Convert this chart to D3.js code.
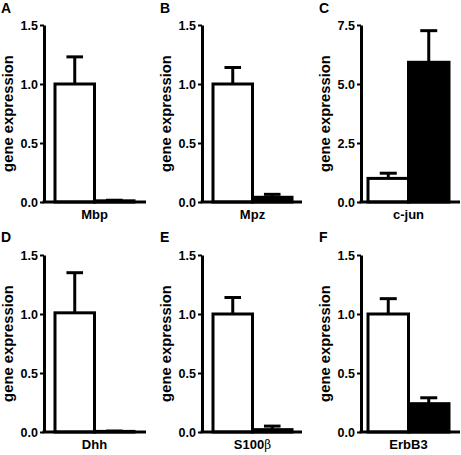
<!DOCTYPE html>
<html>
<head>
<meta charset="utf-8">
<script src="https://cdn.jsdelivr.net/npm/d3@7"></script>
<style>
  body { margin: 0; background: #fff; }
  svg { display: block; }
  text { font-family: "Liberation Sans", Arial, sans-serif; font-weight: bold; fill: #000; }
</style>
</head>
<body>
<svg id="chart" width="461" height="455"></svg>
<script>
// ---- data ----
const panelLetters = ["A", "B", "C", "D", "E", "F"];
const genes = ["Mbp", "Mpz", "c-jun", "Dhh", "S100", "ErbB3"];
const geneSuffix = ["", "", "", "", "\u03B2", ""];
const groups = ["control", "treated"];
const controlValues = [1.0, 1.0, 1.0, 1.01, 1.0, 1.0];
const controlErrors = [0.23, 0.14, 0.22, 0.34, 0.14, 0.13];
const treatedValues = [0.01, 0.04, 5.92, 0.005, 0.02, 0.24];
const treatedErrors = [0.005, 0.025, 1.34, 0.003, 0.03, 0.05];
const yMaxima = [1.5, 1.5, 7.5, 1.5, 1.5, 1.5];
const tickSetSmall = [0, 0.5, 1.0, 1.5];
const tickSetLarge = [0, 2.5, 5.0, 7.5];
const yTitle = "gene expression";

// ---- layout ----
const cols = [
  { axisX: 44, barStart: 55, barEnd: 134, axisEnd: 146, letterX: 1 },
  { axisX: 202, barStart: 213, barEnd: 292, axisEnd: 302, letterX: 160 },
  { axisX: 361, barStart: 368, barEnd: 449, axisEnd: 460, letterX: 319 }
];
const rows = [
  { top: 25, bottom: 202, letterY: 13 },
  { top: 255, bottom: 432, letterY: 242 }
];

const svg = d3.select("#chart");

genes.forEach((gene, i) => {
  const c = cols[i % 3], r = rows[Math.floor(i / 3)];
  const g = svg.append("g");
  const y = d3.scaleLinear().domain([0, yMaxima[i]]).range([r.bottom, r.top]);
  const x = d3.scaleBand().domain(groups).range([c.barStart, c.barEnd]).paddingInner(0).paddingOuter(0);

  const vals = [controlValues[i], treatedValues[i]];
  const errs = [controlErrors[i], treatedErrors[i]];
  const data = groups.map((k, j) => ({ k, v: vals[j], e: errs[j] }));

  // error bars (upper)
  const capW = x.bandwidth() * 0.42;
  data.forEach(d => {
    const cx = x(d.k) + x.bandwidth() / 2;
    g.append("line").attr("x1", cx).attr("x2", cx)
      .attr("y1", y(d.v)).attr("y2", y(d.v + d.e))
      .attr("stroke", "#000").attr("stroke-width", 3);
    g.append("line").attr("x1", cx - capW / 2).attr("x2", cx + capW / 2)
      .attr("y1", y(d.v + d.e)).attr("y2", y(d.v + d.e))
      .attr("stroke", "#000").attr("stroke-width", 3);
  });

  // bars
  g.selectAll("rect.bar").data(data).enter().append("rect")
    .attr("class", "bar")
    .attr("x", d => x(d.k))
    .attr("width", x.bandwidth())
    .attr("y", d => y(d.v))
    .attr("height", d => y(0) - y(d.v))
    .attr("fill", d => d.k === "control" ? "#fff" : "#000")
    .attr("stroke", "#000").attr("stroke-width", 3);

  // y axis
  const ticks = yMaxima[i] > 2 ? tickSetLarge : tickSetSmall;
  const yAxis = d3.axisLeft(y).tickValues(ticks).tickFormat(d3.format(".1f"))
    .tickSize(4).tickSizeOuter(0).tickPadding(2);
  const ag = g.append("g").attr("transform", `translate(${c.axisX},0)`).call(yAxis);
  ag.select(".domain").attr("stroke-width", 3).attr("stroke", "#000");
  ag.selectAll(".tick line").attr("stroke-width", 2).attr("stroke", "#000");
  ag.selectAll(".tick text").style("font-size", "12.5px")
    .style("font-family", "'Liberation Sans', Arial, sans-serif").style("font-weight", "bold");

  // x axis baseline
  g.append("line").attr("x1", c.axisX - 1.5).attr("x2", c.axisEnd)
    .attr("y1", y(0)).attr("y2", y(0))
    .attr("stroke", "#000").attr("stroke-width", 3);

  // category label
  const lab = g.append("text").attr("x", (c.barStart + c.barEnd) / 2).attr("y", r.bottom + 17)
    .attr("text-anchor", "middle").style("font-size", "13px").text(gene);
  if (geneSuffix[i]) {
    lab.append("tspan").style("font-weight", "normal").style("font-family", "'DejaVu Serif', serif")
      .style("font-size", "12px").text(geneSuffix[i]);
  }

  // y title
  g.append("text")
    .attr("transform", `translate(${c.axisX - 31},${(r.top + r.bottom) / 2}) rotate(-90)`)
    .attr("text-anchor", "middle").style("font-size", "14.8px").text(yTitle);

  // panel letter
  g.append("text").attr("x", c.letterX).attr("y", r.letterY)
    .style("font-size", "14px").text(panelLetters[i]);
});
</script>
</body>
</html>
